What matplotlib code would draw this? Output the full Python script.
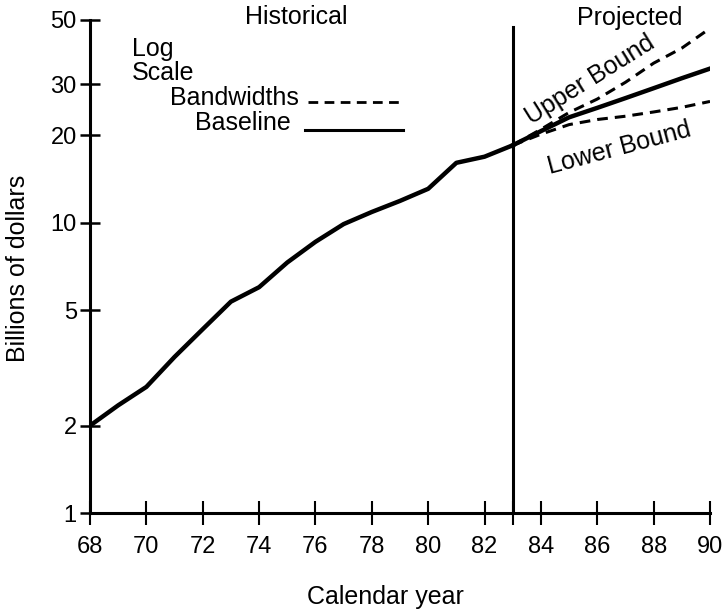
import matplotlib.pyplot as plt

plt.rcParams['font.family'] = ['Liberation Sans', 'DejaVu Sans']

# Historical baseline (billions of dollars)
hist_years = [68, 69, 70, 71, 72, 73, 74, 75, 76, 77, 78, 79, 80, 81, 82, 83]
hist_values = [2.0, 2.35, 2.72, 3.45, 4.3, 5.35, 6.0, 7.3, 8.6, 9.9, 10.9, 11.9, 13.1, 16.1, 16.9, 18.5]

# Projections
proj_years = [83, 84, 85, 86, 87, 88, 89, 90]
proj_baseline = [18.5, 20.7, 23.1, 24.9, 26.9, 29.1, 31.5, 34.0]
proj_upper = [18.5, 21.0, 24.0, 26.7, 30.5, 35.5, 40.0, 46.8]
proj_lower = [18.5, 20.2, 21.8, 22.7, 23.3, 24.1, 25.0, 26.2]

y_ticks = [1, 2, 5, 10, 20, 30, 50]
x_ticks = [68, 70, 72, 74, 76, 78, 80, 82, 83, 84, 86, 88, 90]
x_labels = ['68', '70', '72', '74', '76', '78', '80', '82', '', '84', '86', '88', '90']

W, H = 728, 614


def fx(px):
    return px / W


def fy(py):
    return 1 - py / H


fig = plt.figure(figsize=(W / 100, H / 100), dpi=100)
ax = fig.add_axes([fx(90), fy(513), 620 / W, 493 / H])

ax.plot(hist_years, hist_values, color='black', lw=3.2, solid_joinstyle='round')
ax.plot(proj_years, proj_baseline, color='black', lw=3.2, solid_joinstyle='round')
ax.plot(proj_years, proj_upper, color='black', lw=2.2, linestyle=(0, (3.5, 2.3)))
ax.plot(proj_years, proj_lower, color='black', lw=2.2, linestyle=(0, (3.5, 2.3)))

# divider between historical and projected
ax.axvline(83, ymin=0, ymax=0.985, color='black', lw=2.2)

ax.set_yscale('log')
ax.set_xlim(68, 90)
ax.set_ylim(1, 50)
ax.set_yticks(y_ticks)
ax.set_yticklabels([str(v) for v in y_ticks])
ax.minorticks_off()
ax.set_xticks(x_ticks)
ax.set_xticklabels(x_labels)

for side in ['top', 'right']:
    ax.spines[side].set_visible(False)
for side in ['left', 'bottom']:
    ax.spines[side].set_linewidth(2.2)

ax.tick_params(axis='y', direction='inout', length=15, width=1.8, labelsize=17, pad=2)
ax.tick_params(axis='x', direction='inout', length=17, width=1.5, labelsize=17, pad=8)

# headings and labels
fig.text(fx(296), fy(17), 'Historical', fontsize=18, ha='center', va='center')
fig.text(fx(630), fy(18), 'Projected', fontsize=18, ha='center', va='center')
fig.text(fx(132), fy(49), 'Log', fontsize=18, ha='left', va='center')
fig.text(fx(132), fy(73), 'Scale', fontsize=18, ha='left', va='center')
fig.text(fx(170), fy(98), 'Bandwidths', fontsize=18, ha='left', va='center')
fig.text(fx(195), fy(123), 'Baseline', fontsize=18, ha='left', va='center')
fig.add_artist(plt.Line2D([fx(308), fx(403)], [fy(102), fy(102)], color='black', lw=2.0,
                          linestyle=(0, (3.5, 2.3))))
fig.add_artist(plt.Line2D([fx(305), fx(403)], [fy(130), fy(130)], color='black', lw=2.2))

fig.text(fx(590), fy(80), 'Upper Bound', fontsize=18, rotation=32, ha='center', va='center')
fig.text(fx(619), fy(148), 'Lower Bound', fontsize=18, rotation=15, ha='center', va='center')

fig.text(fx(18), fy(268), 'Billions of dollars', fontsize=18, rotation=90, ha='center', va='center')
fig.text(fx(385), fy(597), 'Calendar year', fontsize=18, ha='center', va='center')

fig.savefig('out.png', dpi=100)
